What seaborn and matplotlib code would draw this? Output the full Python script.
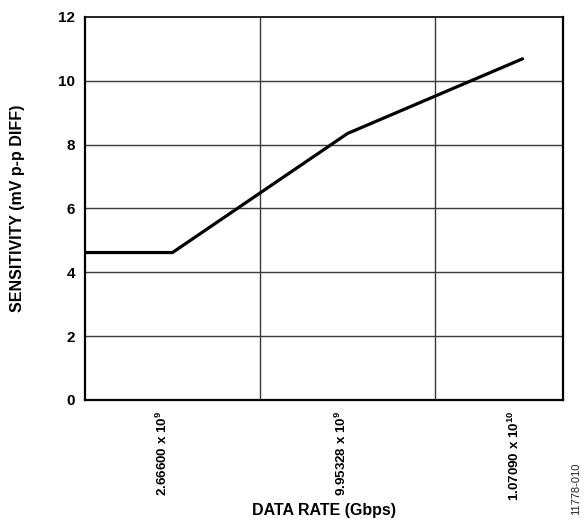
import matplotlib
matplotlib.use("Agg")
import matplotlib.pyplot as plt
import seaborn as sns
import pandas as pd

# Data
positions = [0.0, 0.5, 1.5, 2.5]
sensitivity = [4.62, 4.62, 8.35, 10.69]
tick_positions = [0.445, 1.465, 2.455]
tick_labels = [r"2.66600 x 10$^{\mathbf{9}}$",
               r"9.95328 x 10$^{\mathbf{9}}$",
               r"1.07090 x 10$^{\mathbf{10}}$"]
grid_x = [1, 2]
y_ticks = [0, 2, 4, 6, 8, 10, 12]

sns.set_theme(style="white")
plt.rcParams['font.family'] = ['Liberation Sans', 'DejaVu Sans']
plt.rcParams['mathtext.fontset'] = 'custom'
plt.rcParams['mathtext.rm'] = 'Liberation Sans'
plt.rcParams['mathtext.bf'] = 'Liberation Sans:bold'
for k in ['text.color', 'axes.labelcolor', 'xtick.color', 'ytick.color']:
    plt.rcParams[k] = 'black'

df = pd.DataFrame({"x": positions, "y": sensitivity})

fig = plt.figure(figsize=(5.84, 5.23), dpi=100)
ax = fig.add_axes([0.1455, 0.2352, 0.964 - 0.1455, 0.9675 - 0.2352])

sns.lineplot(data=df, x="x", y="y", ax=ax, color="black", linewidth=2.3,
             sort=False, zorder=3)

ax.set_xlim(0, 2.731)
ax.set_ylim(0, 12)

# gridlines
for g in grid_x:
    ax.axvline(g, color="#3a3a3a", linewidth=1.0, zorder=1)
for yv in y_ticks[1:-1]:
    ax.axhline(yv, color="#3a3a3a", linewidth=1.0, zorder=1)

ax.set_yticks(y_ticks)
ax.set_yticklabels([str(v) for v in y_ticks], fontweight="bold", fontsize=11)
ax.tick_params(axis="y", length=0, pad=7)

ax.set_xticks(tick_positions)
ax.set_xticklabels(tick_labels, rotation=90, fontweight="bold", fontsize=9.6,
                   va="top", ha="center")
ax.tick_params(axis="x", length=0, pad=8)

for s in ["left", "bottom", "right", "top"]:
    ax.spines[s].set_visible(True)
    ax.spines[s].set_color("black")
    ax.spines[s].set_linewidth(1.6)
ax.spines["top"].set_linewidth(1.2)

ax.set_xlabel("DATA RATE (Gbps)", fontweight="bold", fontsize=11.5)
ax.set_ylabel("SENSITIVITY (mV p-p DIFF)", fontweight="bold", fontsize=11.5)
ax.xaxis.set_label_coords(0.5, -0.27)
ax.yaxis.set_label_coords(-0.1255, 0.5)

fig.text(576 / 584, 1 - 515 / 523, "11778-010", rotation=90, fontsize=8,
         ha="center", va="bottom", color="#222222")

fig.savefig("out.png", dpi=100)
